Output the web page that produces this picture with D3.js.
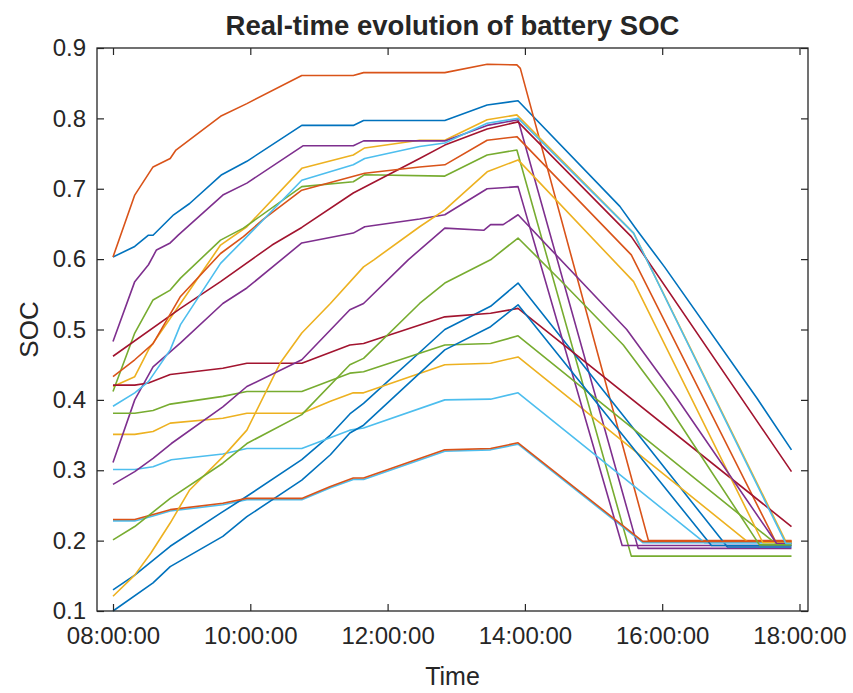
<!DOCTYPE html>
<html>
<head>
<meta charset="utf-8">
<script src="https://cdn.jsdelivr.net/npm/d3@7"></script>
<style>
  body { margin: 0; background: #fff; }
  svg text { font-family: "Liberation Sans", Arial, sans-serif; fill: #262626; }
</style>
</head>
<body>
<svg id="svg_soc" width="853" height="693"></svg>
<script>
// tick labels
const xTickLabels = ['08:00:00', '10:00:00', '12:00:00', '14:00:00', '16:00:00', '18:00:00']
const yTicks = [0.1, 0.2, 0.3, 0.4, 0.5, 0.6, 0.7, 0.8, 0.9]

// SOC of each EV battery over the day, [time, soc]
const ev01 = [['08:00', .603], ['08:19', .618], ['08:31', .634], ['08:35', .634], ['08:53', .663], ['09:07', .679], ['09:35', .720], ['09:57', .739], ['10:45', .790], ['11:30', .790], ['11:39', .797], ['12:50', .797], ['13:27', .819], ['13:54', .825], ['15:23', .675], ['15:38', .641], ['16:02', .589], ['17:23', .402], ['17:53', .329]]
const ev02 = [['08:00', .603], ['08:19', .691], ['08:35', .731], ['08:50', .743], ['08:55', .755], ['09:34', .803], ['09:57', .821], ['10:45', .861], ['11:30', .861], ['11:39', .865], ['12:50', .865], ['13:27', .877], ['13:53', .876], ['13:56', .871], ['15:48', .200], ['17:53', .200]]
const ev03 = [['08:00', .419], ['08:19', .433], ['08:31', .471], ['08:59', .537], ['09:34', .620], ['09:57', .646], ['10:45', .729], ['11:30', .748], ['11:40', .758], ['12:28', .769], ['12:50', .769], ['13:27', .798], ['13:53', .805], ['15:35', .637], ['17:48', .199], ['17:53', .199]]
const ev04 = [['08:00', .483], ['08:19', .568], ['08:31', .592], ['08:38', .613], ['08:50', .623], ['08:57', .634], ['09:36', .691], ['09:57', .708], ['10:46', .761], ['11:30', .761], ['11:39', .768], ['12:50', .768], ['13:27', .790], ['13:54', .798], ['15:39', .189], ['17:53', .189]]
const ev05 = [['08:00', .412], ['08:19', .495], ['08:35', .542], ['08:50', .556], ['08:59', .573], ['09:34', .627], ['09:54', .644], ['10:45', .703], ['11:30', .710], ['11:40', .720], ['12:50', .718], ['13:27', .748], ['13:53', .755], ['15:33', .178], ['17:53', .178]]
const ev06 = [['08:00', .228], ['08:19', .228], ['08:35', .235], ['08:50', .242], ['09:36', .251], ['09:57', .258], ['10:45', .258], ['11:10', .275], ['11:30', .287], ['11:39', .287], ['12:50', .327], ['13:30', .329], ['13:54', .337], ['15:43', .197], ['17:53', .197]]
const ev07 = [['08:00', .462], ['08:59', .530], ['09:34', .568], ['10:19', .620], ['10:45', .645], ['11:30', .694], ['12:28', .743], ['12:50', .762], ['13:27', .785], ['13:54', .795], ['15:33', .632], ['17:53', .298]]
const ev08 = [['08:00', .130], ['08:19', .151], ['08:50', .192], ['09:34', .239], ['09:57', .263], ['10:45', .315], ['11:10', .350], ['11:27', .380], ['11:39', .395], ['12:50', .500], ['13:30', .533], ['13:54', .566], ['16:57', .191], ['17:53', .191]]
const ev09 = [['08:00', .433], ['08:19', .457], ['08:35', .480], ['08:59', .547], ['09:34', .608], ['09:54', .632], ['10:11', .656], ['10:45', .698], ['11:40', .722], ['12:28', .731], ['12:50', .734], ['13:27', .769], ['13:53', .774], ['15:33', .606], ['17:39', .199], ['17:53', .199]]
const ev10 = [['08:00', .351], ['08:19', .351], ['08:35', .355], ['08:50', .367], ['09:36', .374], ['09:57', .381], ['10:45', .381], ['11:10', .398], ['11:30', .410], ['11:39', .410], ['12:50', .450], ['13:30', .452], ['13:54', .461], ['17:15', .198], ['17:53', .198]]
const ev11 = [['08:00', .311], ['08:19', .400], ['08:35', .447], ['08:59', .481], ['09:36', .537], ['09:57', .559], ['10:45', .623], ['11:30', .637], ['11:40', .646], ['12:28', .657], ['12:50', .663], ['13:27', .700], ['13:54', .703], ['15:25', .193], ['17:53', .193]]
const ev12 = [['08:00', .381], ['08:19', .381], ['08:35', .385], ['08:50', .394], ['09:36', .405], ['09:57', .412], ['10:45', .412], ['11:27', .438], ['11:39', .440], ['12:50', .478], ['13:30', .480], ['13:54', .491], ['17:39', .196], ['17:53', .196]]
const ev13 = [['08:00', .301], ['08:19', .301], ['08:35', .305], ['08:51', .315], ['09:36', .323], ['09:57', .331], ['10:45', .331], ['11:27', .357], ['11:39', .360], ['12:50', .400], ['13:30', .401], ['13:54', .410], ['16:37', .197], ['17:53', .197]]
const ev14 = [['08:00', .421], ['08:19', .421], ['08:31', .424], ['08:50', .436], ['09:36', .445], ['09:57', .452], ['10:45', .452], ['11:27', .478], ['11:39', .480], ['12:50', .518], ['13:30', .523], ['13:54', .530], ['17:53', .220]]
const ev15 = [['08:00', .100], ['08:35', .140], ['08:50', .163], ['09:36', .206], ['09:57', .234], ['10:45', .286], ['11:10', .322], ['11:27', .353], ['11:39', .364], ['12:50', .471], ['13:30', .504], ['13:54', .535], ['16:43', .193], ['17:53', .193]]
const ev16 = [['08:00', .230], ['08:19', .230], ['08:35', .237], ['08:50', .244], ['09:36', .253], ['09:57', .260], ['10:45', .260], ['11:10', .277], ['11:30', .289], ['11:39', .289], ['12:50', .329], ['13:30', .331], ['13:54', .339], ['15:43', .199], ['17:53', .199]]
const ev17 = [['08:00', .121], ['08:19', .151], ['08:33', .182], ['08:50', .225], ['09:07', .272], ['09:36', .319], ['09:57', .357], ['10:26', .452], ['10:45', .495], ['11:10', .537], ['11:39', .589], ['11:48', .599], ['12:28', .646], ['12:50', .670], ['13:27', .724], ['13:54', .741], ['15:35', .568], ['17:28', .197], ['17:53', .197]]
const ev18 = [['08:00', .280], ['08:19', .298], ['08:35', .317], ['08:51', .338], ['09:36', .390], ['09:57', .419], ['10:45', .457], ['11:27', .528], ['11:39', .537], ['12:18', .599], ['12:50', .644], ['13:24', .641], ['13:30', .649], ['13:41', .649], ['13:54', .663], ['15:29', .500], ['16:13', .402], ['17:40', .196], ['17:53', .196]]
const ev19 = [['08:00', .201], ['08:19', .220], ['08:50', .260], ['09:36', .310], ['09:57', .338], ['10:45', .379], ['11:27', .450], ['11:39', .459], ['12:28', .537], ['12:50', .566], ['13:30', .599], ['13:54', .630], ['14:31', .570], ['15:26', .478], ['16:01', .402], ['17:25', .194], ['17:53', .194]]
const ev20 = [['08:00', .391], ['08:19', .410], ['08:31', .426], ['08:50', .471], ['08:59', .507], ['09:34', .594], ['09:54', .627], ['10:45', .712], ['11:30', .734], ['11:40', .743], ['12:28', .760], ['12:50', .765], ['13:27', .793], ['13:54', .800], ['15:35', .637], ['17:48', .196], ['17:53', .196]]

const evSeries = [ev01, ev02, ev03, ev04, ev05, ev06, ev07, ev08, ev09, ev10,
  ev11, ev12, ev13, ev14, ev15, ev16, ev17, ev18, ev19, ev20]

// default MATLAB line colour order
const colorOrder = ['#0072BD', '#D95319', '#EDB120', '#7E2F8E', '#77AC30', '#4DBEEE', '#A2142F']

function drawChart() {
  const svg = d3.select('#svg_soc')

  const box = { left: 97, right: 808, top: 48, bottom: 611 }
  const parseHM = d3.timeParse('%H:%M')
  const parseHMS = d3.timeParse('%H:%M:%S')

  const xScale = d3.scaleTime()
    .domain([parseHM('08:00'), parseHM('18:00')])
    .range([113, 799.5])

  const yScale = d3.scaleLinear()
    .domain([0.1, 0.9])
    .range([box.bottom, box.top])

  const color = d3.scaleOrdinal().range(colorOrder)

  // lines
  const line = d3.line()
    .x(d => xScale(parseHM(d[0])))
    .y(d => yScale(d[1]))

  svg.append('g')
    .selectAll('path')
    .data(evSeries)
    .enter()
    .append('path')
    .attr('d', line)
    .attr('fill', 'none')
    .attr('stroke', (d, i) => color(i % colorOrder.length))
    .attr('stroke-width', 1.6)
    .attr('stroke-linejoin', 'round')

  // axes, ticks pointing inwards like MATLAB
  const xTicks = xTickLabels.map(parseHMS)
  const tickLen = 7

  const bottomAxis = d3.axisBottom(xScale)
    .tickValues(xTicks)
    .tickFormat(d3.timeFormat('%H:%M:%S'))
    .tickSizeInner(-tickLen)
    .tickSizeOuter(0)
    .tickPadding(16)

  const leftAxis = d3.axisLeft(yScale)
    .tickValues(yTicks)
    .tickFormat(d3.format('.1f'))
    .tickSizeInner(-tickLen)
    .tickSizeOuter(0)
    .tickPadding(11)

  const topAxis = d3.axisTop(xScale).tickValues(xTicks).tickFormat('').tickSizeInner(-tickLen).tickSizeOuter(0)
  const rightAxis = d3.axisRight(yScale).tickValues(yTicks).tickFormat('').tickSizeInner(-tickLen).tickSizeOuter(0)

  const axes = [
    [bottomAxis, `translate(0, ${box.bottom})`],
    [leftAxis, `translate(${box.left}, 0)`],
    [topAxis, `translate(0, ${box.top})`],
    [rightAxis, `translate(${box.right}, 0)`]
  ]
  axes.forEach(([ax, tr]) => {
    const g = svg.append('g').attr('transform', tr).call(ax)
    g.select('.domain').remove()
    g.selectAll('line').attr('stroke', '#262626').attr('stroke-width', 1.2)
    g.selectAll('text')
      .attr('font-size', 24)
      .attr('font-family', '"Liberation Sans", Arial, sans-serif')
      .attr('fill', '#262626')
  })

  svg.append('rect')
    .attr('x', box.left)
    .attr('y', box.top)
    .attr('width', box.right - box.left)
    .attr('height', box.bottom - box.top)
    .attr('fill', 'none')
    .attr('stroke', '#262626')
    .attr('stroke-width', 1.3)

  // labels
  svg.append('text')
    .text('Real-time evolution of battery SOC')
    .attr('x', (box.left + box.right) / 2)
    .attr('y', 35)
    .attr('text-anchor', 'middle')
    .attr('font-size', 27.5)
    .attr('font-weight', 'bold')
    .attr('fill', '#000')

  svg.append('text')
    .text('Time')
    .attr('x', (box.left + box.right) / 2)
    .attr('y', 685)
    .attr('text-anchor', 'middle')
    .attr('font-size', 25)

  svg.append('text')
    .text('SOC')
    .attr('transform', `translate(38, ${(box.top + box.bottom) / 2}) rotate(-90)`)
    .attr('text-anchor', 'middle')
    .attr('font-size', 26)
}

drawChart()
</script>
</body>
</html>
